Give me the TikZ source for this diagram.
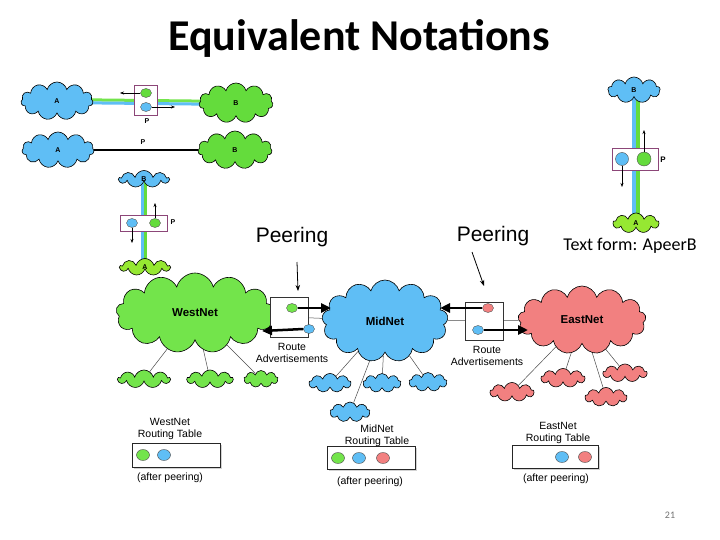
\documentclass[tikz,border=0pt]{standalone}
\usepackage{fontspec}
\setmainfont{Liberation Sans}
\newfontfamily\carlito{Carlito}
\usetikzlibrary{shapes.symbols,shapes.geometric,arrows.meta,shadows,backgrounds}
\definecolor{cblue}{RGB}{95,190,245}
\definecolor{cgreen}{RGB}{115,228,75}
\definecolor{cyg}{RGB}{150,232,50}
\definecolor{cred}{RGB}{242,128,128}
\definecolor{pcol}{RGB}{140,70,120}
\definecolor{dgreen}{RGB}{100,220,60}
\tikzset{
  cloudn/.style={cloud, cloud puffs=11, cloud ignores aspect, draw=black, line width=0.6pt, inner sep=0pt, font=\bfseries\fontsize{7}{8}\selectfont},
  smallcloud/.style={cloudn, cloud puffs=9},
  bignet/.style={cloudn, cloud puffs=13, font=\bfseries\fontsize{11.5}{13}\selectfont},
  dot/.style={ellipse, draw=black!70, line width=0.4pt, inner sep=0pt, minimum width=11pt, minimum height=9pt},
  pbox/.style={rectangle, draw=pcol, line width=0.7pt, fill=white, inner sep=0pt},
  peerbox/.style={rectangle, draw=black!80, line width=0.7pt, fill=white, inner sep=0pt, drop shadow={shadow xshift=1.2pt, shadow yshift=-1.2pt, opacity=0.35}},
  tablebox/.style={rectangle, draw=black!85, line width=0.7pt, fill=white, inner sep=0pt, drop shadow={shadow xshift=1.5pt, shadow yshift=-1.5pt, opacity=0.35}},
  thinarr/.style={-{Stealth[length=4pt,width=3pt]}, line width=0.5pt},
  thickarr/.style={-{Triangle[length=10pt,width=9pt]}, line width=2.5pt},
  peerarr/.style={-{Stealth[length=6pt,width=4.5pt]}, line width=0.8pt},
  plabel/.style={font=\bfseries\fontsize{7}{8}\selectfont, inner sep=0pt},
  smalltxt/.style={font=\fontsize{10.5}{12}\selectfont, align=center, inner sep=0pt},
  link/.style={line width=0.5pt, draw=black!70}
}
\begin{document}
\begin{tikzpicture}[x=1pt,y=-1pt]
\useasboundingbox (0,0) rectangle (720,540);

% title
\node[font=\carlito\bfseries\fontsize{44}{48}\selectfont, inner sep=0pt] (title) at (359,38) {Equivalent Notations};

% ---------- row 1 ----------
\node[cloudn, fill=cblue, minimum width=72pt, minimum height=38pt] (a1) at (57,101) {A};
\node[cloudn, fill=dgreen, minimum width=74pt, minimum height=40pt] (b1) at (236,103) {B};
\node[pbox, minimum width=23pt, minimum height=30pt] (p1) at (146,100) {};
\node[dot, fill=dgreen] (g1) at (146,93) {};
\node[dot, fill=cblue] (bl1) at (146,107) {};
\coordinate (g1t) at (120,93);
\coordinate (bl1t) at (175,107);
\draw[thinarr] (g1.west) -- (g1t);
\draw[thinarr] (bl1.east) -- (bl1t);
\node[plabel] (p1l) at (147,121) {P};

% ---------- row 2 ----------
\node[cloudn, fill=cblue, minimum width=72pt, minimum height=36pt] (a2) at (58,150) {A};
\node[cloudn, fill=dgreen, minimum width=74pt, minimum height=38pt] (b2) at (235,150) {B};
\node[plabel] (p2l) at (143,142) {P};

% ---------- left vertical ----------
\node[smallcloud, fill=cblue, minimum width=50pt, minimum height=17pt] (b3) at (144,179) {B};
\node[smallcloud, fill=cyg, minimum width=50pt, minimum height=17pt] (a3) at (145,267) {A};
\node[pbox, minimum width=47pt, minimum height=16pt] (p3) at (144,223) {};
\node[dot, fill=cblue] (bl3) at (132,223) {};
\node[dot, fill=dgreen] (g3) at (155,223) {};
\coordinate (bl3t) at (132,243);
\coordinate (g3t) at (155,203);
\draw[thinarr] (bl3.south) -- (bl3t);
\draw[thinarr] (g3.north) -- (g3t);
\node[plabel] (p3l) at (173,222) {P};

% ---------- right vertical ----------
\node[smallcloud, fill=cblue, minimum width=52pt, minimum height=26pt] (b4) at (634,90) {B};
\node[smallcloud, fill=cyg, minimum width=46pt, minimum height=20pt] (a4) at (636,223) {A};
\node[pbox, minimum width=46pt, minimum height=22pt] (p4) at (635,159) {};
\node[dot, fill=cblue, minimum width=13pt, minimum height=13pt] (bl4) at (622,159) {};
\node[dot, fill=dgreen, minimum width=14pt, minimum height=14pt] (g4) at (644,159) {};
\coordinate (g4t) at (644,130);
\coordinate (bl4t) at (622,187);
\draw[thinarr] (g4.north) -- (g4t);
\draw[thinarr] (bl4.south) -- (bl4t);
\node[plabel, font=\bfseries\fontsize{8}{9}\selectfont] (p4l) at (663,160) {P};
\node[font=\carlito\fontsize{18}{20}\selectfont, inner sep=0pt] (tf) at (630,246) {Text form: ApeerB};

% ---------- main networks ----------
\node[bignet, fill=cgreen, minimum width=158pt, minimum height=80pt] (west) at (195,313) {WestNet};
\node[bignet, fill=cblue, minimum width=126pt, minimum height=82pt] (mid) at (385,321) {MidNet};
\node[bignet, fill=cred, minimum width=128pt, minimum height=68pt] (east) at (582,320) {EastNet};

% sub clouds
\node[smallcloud, fill=cgreen, minimum width=52pt, minimum height=18pt] (w1) at (144,379) {};
\node[smallcloud, fill=cgreen, minimum width=46pt, minimum height=18pt] (w2) at (210,379) {};
\node[smallcloud, fill=cgreen, minimum width=34pt, minimum height=17pt] (w3) at (261,379) {};
\node[smallcloud, fill=cblue, minimum width=42pt, minimum height=19pt] (m1) at (330,383) {};
\node[smallcloud, fill=cblue, minimum width=38pt, minimum height=19pt] (m2) at (382,383) {};
\node[smallcloud, fill=cblue, minimum width=38pt, minimum height=19pt] (m3) at (428,382) {};
\node[smallcloud, fill=cblue, minimum width=40pt, minimum height=20pt] (m4) at (350,412) {};
\node[smallcloud, fill=cred, minimum width=44pt, minimum height=19pt] (e1) at (512,392) {};
\node[smallcloud, fill=cred, minimum width=44pt, minimum height=19pt] (e2) at (563,378) {};
\node[smallcloud, fill=cred, minimum width=42pt, minimum height=19pt] (e3) at (606,397) {};
\node[smallcloud, fill=cred, minimum width=44pt, minimum height=18pt] (e4) at (625,373) {};

% peering boxes
\node[peerbox, minimum width=38pt, minimum height=40pt] (pb1) at (289,317) {};
\node[dot, fill=cgreen] (pg1) at (292,308) {};
\node[dot, fill=cblue] (pbl1) at (309,329) {};
\coordinate (pg1t) at (331,308);
\coordinate (pbl1t) at (262,331);
\draw[thickarr] (pg1.east) -- (pg1t);
\draw[thickarr] (pbl1.west) -- (pbl1t);
\node[smalltxt] (ra1) at (292,353) {Route\\Advertisements};

\node[peerbox, minimum width=38pt, minimum height=38pt] (pb2) at (484,321) {};
\node[dot, fill=cred] (pr2) at (488,308) {};
\node[dot, fill=cblue] (pbl2) at (478,330) {};
\coordinate (pr2t) at (440,308);
\coordinate (pbl2t) at (528,330);
\draw[thickarr] (pr2.west) -- (pr2t);
\draw[thickarr] (pbl2.east) -- (pbl2t);
\node[smalltxt] (ra2) at (487,356) {Route\\Advertisements};

% peering labels
\node[font=\fontsize{21}{24}\selectfont, inner sep=0pt] (peer1) at (292,237) {Peering};
\node[font=\fontsize{21}{24}\selectfont, inner sep=0pt] (peer2) at (493,236) {Peering};
\coordinate (pa1s) at (297,262);
\coordinate (pa1e) at (298,291);
\coordinate (pa2s) at (472,252);
\coordinate (pa2e) at (484,286);
\draw[peerarr] (pa1s) -- (pa1e);
\draw[peerarr] (pa2s) -- (pa2e);

% routing tables
\node[smalltxt] (wtl) at (170,429) {WestNet\\Routing Table};
\node[tablebox, minimum width=88pt, minimum height=24pt] (wt) at (176,455) {};
\node[dot, fill=cgreen, minimum width=13pt, minimum height=11pt] (wt1) at (143,455) {};
\node[dot, fill=cblue, minimum width=13pt, minimum height=11pt] (wt2) at (164,455) {};
\node[smalltxt] (wta) at (170,478) {(after peering)};

\node[smalltxt] (mtl) at (377,436) {MidNet\\Routing Table};
\node[tablebox, minimum width=88pt, minimum height=23pt] (mt) at (371,458) {};
\node[dot, fill=cgreen, minimum width=13pt, minimum height=11pt] (mt1) at (338,458) {};
\node[dot, fill=cblue, minimum width=13pt, minimum height=11pt] (mt2) at (359,458) {};
\node[dot, fill=cred, minimum width=13pt, minimum height=11pt] (mt3) at (383,458) {};
\node[smalltxt] (mta) at (370,482) {(after peering)};

\node[smalltxt] (etl) at (558,433) {EastNet\\Routing Table};
\node[tablebox, minimum width=86pt, minimum height=23pt] (et) at (555,457) {};
\node[dot, fill=cblue, minimum width=13pt, minimum height=11pt] (et1) at (562,457) {};
\node[dot, fill=cred, minimum width=13pt, minimum height=11pt] (et2) at (585,457) {};
\node[smalltxt] (eta) at (556,479) {(after peering)};

% page number
\node[font=\carlito\fontsize{10}{12}\selectfont, text=black!55, inner sep=0pt] (pn) at (670,515) {21};

% ---------- background connectors ----------
\begin{pgfonlayer}{background}
\fill[white] (0,0) rectangle (720,540);
\draw[cgreen, line width=3pt] ([yshift=1.5pt]a1.center) -- ([yshift=1.5pt]b1.center);
\draw[cblue, line width=3pt] ([yshift=-1.5pt]a1.center) -- ([yshift=-1.5pt]b1.center);
\draw[line width=1.8pt] (a2) -- (b2);
\draw[cblue, line width=3pt] ([xshift=-1.5pt]b3.center) -- ([xshift=-1.5pt]b3.center |- a3.center);
\draw[dgreen, line width=3pt] ([xshift=1.5pt]b3.center) -- ([xshift=1.5pt]b3.center |- a3.center);
\draw[cblue, line width=4pt] ([xshift=-2pt]a4.center |- b4.center) -- ([xshift=-2pt]a4.center);
\draw[dgreen, line width=4pt] ([xshift=2pt]a4.center |- b4.center) -- ([xshift=2pt]a4.center);
\draw[link] (west) -- (mid);
\draw[link] (mid) -- (east);
\foreach \s in {w1,w2,w3} \draw[link] (west) -- (\s);
\foreach \s in {m1,m2,m3,m4} \draw[link] (mid) -- (\s);
\foreach \s in {e1,e2,e3,e4} \draw[link] (east) -- (\s);
\end{pgfonlayer}
\end{tikzpicture}
\end{document}
